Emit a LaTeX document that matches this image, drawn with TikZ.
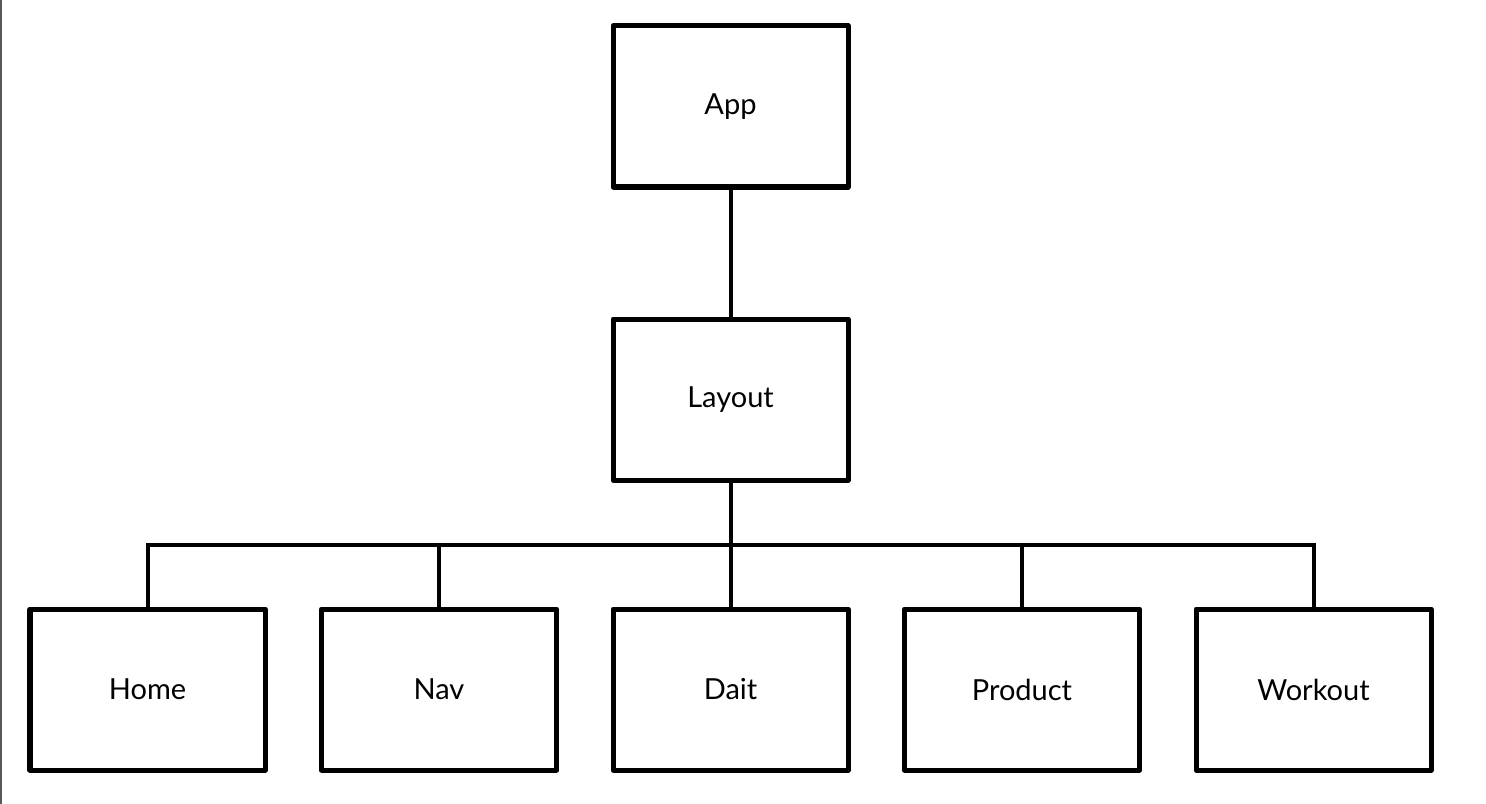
\documentclass[tikz,border=0pt]{standalone}
\usepackage{fontspec}
\setmainfont{Lato}
\usetikzlibrary{positioning}

\begin{document}
\begin{tikzpicture}[node distance=5.83cm,
    comp/.style={draw,line width=0.1cm,line join=round,minimum width=4.7cm,
      minimum height=3.22cm,inner sep=0pt,font=\fontsize{16.5}{20}\selectfont},
    link/.style={line width=0.08cm}]
      \useasboundingbox (0,0) rectangle (29.72,-16.08);
      \draw[gray!70!black,line width=0.04cm] (0.02,0) -- (0.02,-16.08);

      \node[comp] (app) at (14.61,-2.13) {App};
      \node[comp] (layout) [below=2.54cm of app] {Layout};
      \node[comp] (dait) [below=2.48cm of layout] {Dait};
      \node[comp] (nav) [left of=dait] {Nav};
      \node[comp] (home) [left of=nav] {Home};
      \node[comp] (product) [right of=dait] {Product};
      \node[comp] (workout) [right of=product] {Workout};

      \coordinate (bus) at (14.61,-10.9);

      \draw[link] (app) -- (layout);
      \draw[link] (layout) -- (dait);
      \draw[link] (home.north) |- (bus) -| (workout.north);
      \draw[link] (nav.north) -- (nav.north |- bus);
      \draw[link] (product.north) -- (product.north |- bus);
    \end{tikzpicture}
\end{document}
